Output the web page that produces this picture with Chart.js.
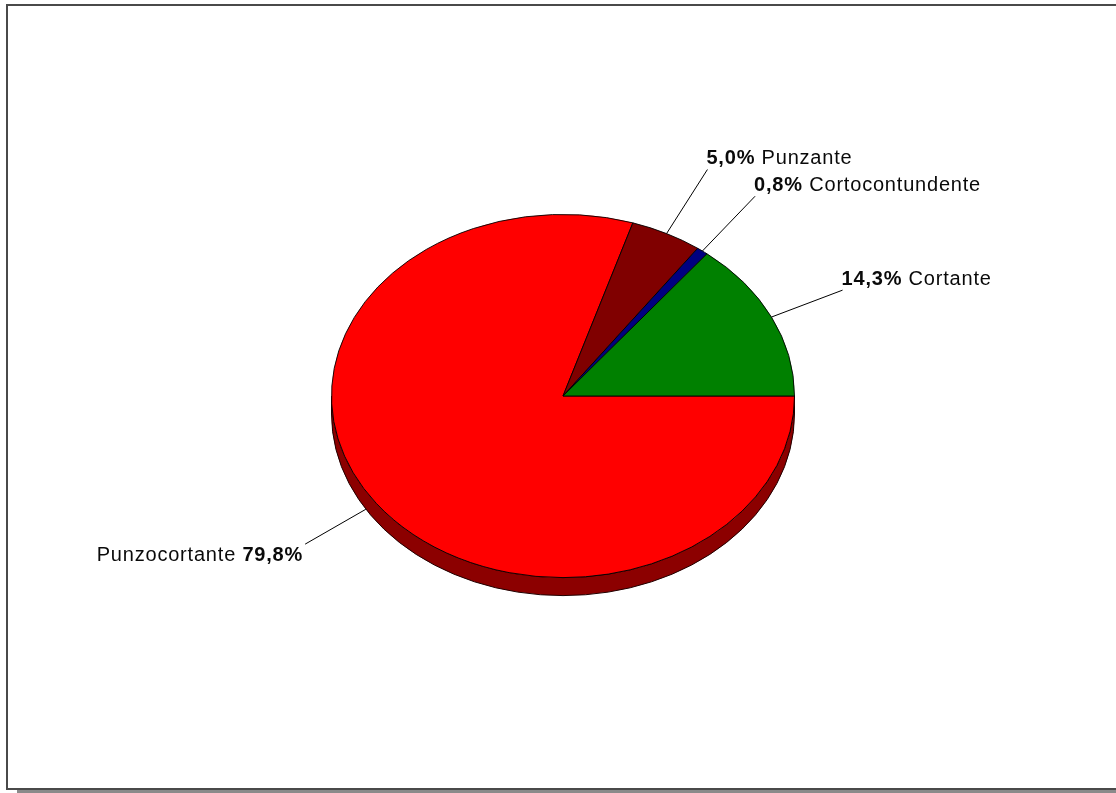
<!DOCTYPE html>
<html lang="es">
<head>
<meta charset="utf-8">
<title>Tipo de arma</title>
<script src="https://cdn.jsdelivr.net/npm/chart.js@4.4.1/dist/chart.umd.min.js"></script>
<style>
  html, body { margin: 0; padding: 0; background: #fff; overflow: hidden; }
  canvas { display: block; }
</style>
</head>
<body>
<canvas id="pieChart" width="1116" height="793"></canvas>
<script>
"use strict";

/* ── Datos ─────────────────────────────────────────────────── */
const CATEGORIES = ["Punzocortante", "Punzante", "Cortocontundente", "Cortante"];
const PERCENTS   = [79.8, 5.0, 0.8, 14.3];

/* ── Estilo ────────────────────────────────────────────────── */
const TOP_COLORS  = ["#ff0000", "#800000", "#000080", "#008000"];
const SIDE_COLORS = ["#8c0000", "#4a0000", "#00004a", "#004a00"];
const TILT   = 182 / 232;  // aplastamiento vertical de la torta
const DEPTH  = 18;         // grosor del canto en px
const LEAD   = 76;         // largo de las líneas guía
const FONT   = "'Liberation Sans', Arial, sans-serif";

function fmtPct(v) {
  return v.toFixed(1).replace(".", ",") + "%";
}

/* Marco de la hoja */
const framePlugin = {
  id: "frame",
  beforeDraw(chart) {
    const { ctx, width, height } = chart;
    ctx.save();
    ctx.fillStyle = "#fff";
    ctx.fillRect(0, 0, width, height);
    ctx.fillStyle = "#8a8a8a";
    ctx.fillRect(17, 790, width, 3);
    ctx.strokeStyle = "#4a4a4a";
    ctx.lineWidth = 2;
    ctx.strokeRect(7, 5, width + 10, 784);
    ctx.restore();
  }
};

/* Torta inclinada: canto frontal + cara superior aplastada */
const pie3dPlugin = {
  id: "pie3d",
  beforeDatasetsDraw(chart) {
    const arcs = chart.getDatasetMeta(0).data;
    const ctx = chart.ctx;
    const { x: cx, y: cy, outerRadius: r } = arcs[0];
    const ry = r * TILT;

    // solo se ve la mitad delantera (ángulos 0..PI en el canvas)
    arcs.forEach((arc, i) => {
      const a0 = Math.max(arc.startAngle, 0);
      const a1 = Math.min(arc.endAngle, Math.PI);
      if (a1 <= a0) return;
      ctx.save();
      ctx.beginPath();
      ctx.ellipse(cx, cy, r, ry, 0, a0, a1);
      ctx.ellipse(cx, cy + DEPTH, r, ry, 0, a1, a0, true);
      ctx.closePath();
      ctx.fillStyle = SIDE_COLORS[i];
      ctx.fill();
      ctx.strokeStyle = "#200000";
      ctx.lineWidth = 1;
      ctx.stroke();
      ctx.restore();
    });

    ctx.save();
    ctx.translate(cx, cy);
    ctx.scale(1, TILT);
    ctx.translate(-cx, -cy);
  },
  afterDatasetsDraw(chart) {
    chart.ctx.restore();
  }
};

/* Etiquetas con línea guía: porcentaje en negrita + categoría */
const labelPlugin = {
  id: "pieLabels",
  afterDraw(chart) {
    const arcs = chart.getDatasetMeta(0).data;
    const ctx = chart.ctx;
    const { x: cx, y: cy, outerRadius: r } = arcs[0];
    const ry = r * TILT;

    ctx.save();
    ctx.letterSpacing = "0.8px";
    ctx.textBaseline = "middle";
    arcs.forEach((arc, i) => {
      const mid = (arc.startAngle + arc.endAngle) / 2;
      let sx = cx + r * Math.cos(mid);
      let sy = cy + ry * Math.sin(mid);
      const len = Math.hypot(sx - cx, sy - cy);
      const dx = (sx - cx) / len, dy = (sy - cy) / len;
      // las de abajo arrancan desde el canto
      if (dy > 0) { sx += dx * 12; sy += dy * 12; }
      const lead = dy > 0 ? LEAD - 6 : LEAD;
      const ex = sx + dx * lead, ey = sy + dy * lead;

      ctx.strokeStyle = "#000";
      ctx.lineWidth = 1;
      ctx.beginPath();
      ctx.moveTo(sx, sy);
      ctx.lineTo(ex, ey);
      ctx.stroke();

      const pct = fmtPct(PERCENTS[i]);
      const name = CATEGORIES[i];
      ctx.fillStyle = "#0a0a0a";
      if (dx >= 0) {
        const ty = ey - 11;
        let tx = ex - 1;
        ctx.font = "bold 20px " + FONT;
        ctx.textAlign = "left";
        ctx.fillText(pct, tx, ty);
        tx += ctx.measureText(pct + " ").width;
        ctx.font = "20px " + FONT;
        ctx.fillText(name, tx, ty);
      } else {
        const ty = ey + 11;
        let tx = ex - 2;
        ctx.textAlign = "right";
        ctx.font = "bold 20px " + FONT;
        ctx.fillText(pct, tx, ty);
        tx -= ctx.measureText(" " + pct).width;
        ctx.font = "20px " + FONT;
        ctx.fillText(name, tx, ty);
      }
    });
    ctx.restore();
  }
};

new Chart(document.getElementById("pieChart"), {
  type: "pie",
  plugins: [framePlugin, pie3dPlugin, labelPlugin],
  data: {
    labels: CATEGORIES,
    datasets: [{
      data: PERCENTS,
      backgroundColor: TOP_COLORS,
      borderColor: "#000",
      borderWidth: 1,
      clip: false,
    }]
  },
  options: {
    responsive: false,
    animation: false,
    rotation: 90,
    layout: { padding: { left: 331, right: 321, top: 164, bottom: 165 } },
    plugins: {
      legend: { display: false },
      tooltip: { enabled: false },
    },
  }
});
</script>
</body>
</html>
